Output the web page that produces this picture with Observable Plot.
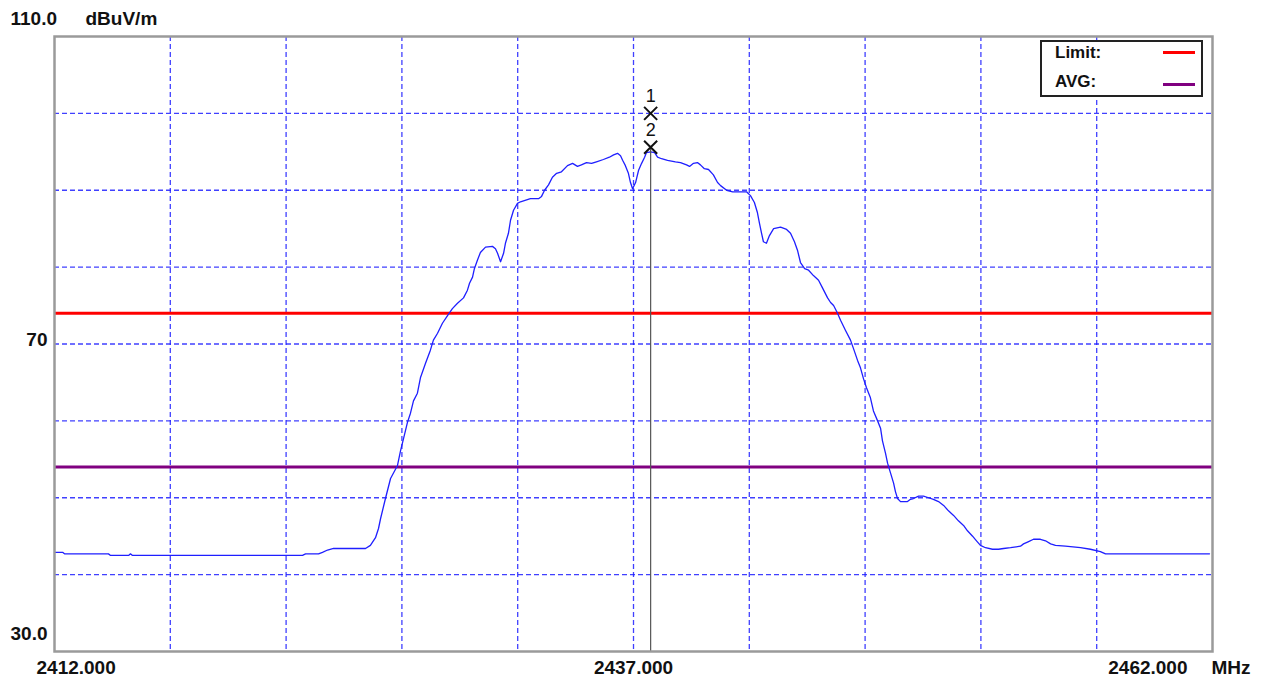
<!DOCTYPE html>
<html><head><meta charset="utf-8">
<script src="https://cdn.jsdelivr.net/npm/d3@7"></script>
<script src="https://cdn.jsdelivr.net/npm/@observablehq/plot@0.6"></script>
<style>
body{margin:0;background:#fff;}
#wrap{position:relative;width:1262px;height:682px;}
#legend{position:absolute;left:1040px;top:40px;width:159px;height:53px;border:2px solid #222;background:#fff;font-family:"Liberation Sans",Arial,sans-serif;font-weight:bold;font-size:17px;color:#111;}
.row{position:absolute;left:13px;}
.sw{position:absolute;left:121px;width:32px;height:3px;}
</style>
</head><body><div id="wrap"><div id="chart"></div><div id="legend"></div></div>
<script>
// Trace (MHz, dBuV/m)
const freq = [2412.00,2412.35,2412.43,2414.33,2414.42,2415.20,2415.28,2415.37,2422.71,2422.84,2423.40,2423.57,2423.79,2424.05,2425.43,2425.64,2425.86,2425.99,2426.08,2426.29,2426.51,2426.81,2426.94,2427.07,2427.24,2427.37,2427.50,2427.67,2427.80,2428.02,2428.23,2428.36,2428.54,2428.75,2428.97,2429.18,2429.40,2429.66,2429.83,2429.92,2430.05,2430.13,2430.26,2430.39,2430.61,2430.91,2431.04,2431.13,2431.26,2431.39,2431.47,2431.60,2431.69,2431.82,2431.99,2432.12,2432.55,2432.90,2433.03,2433.16,2433.33,2433.50,2433.68,2433.89,2434.15,2434.37,2434.58,2434.75,2434.97,2435.19,2435.40,2435.70,2435.96,2436.14,2436.31,2436.44,2436.53,2436.65,2436.78,2436.87,2436.96,2437.09,2437.22,2437.35,2437.48,2437.56,2437.74,2437.91,2438.04,2438.21,2438.47,2438.81,2439.03,2439.29,2439.42,2439.59,2439.76,2439.89,2440.06,2440.24,2440.45,2440.63,2440.76,2441.02,2441.28,2441.88,2442.05,2442.22,2442.35,2442.44,2442.53,2442.61,2442.74,2442.87,2443.05,2443.35,2443.61,2443.78,2443.95,2444.08,2444.21,2444.39,2444.56,2444.77,2444.99,2445.16,2445.38,2445.51,2445.64,2445.81,2445.94,2446.15,2446.37,2446.50,2446.67,2446.80,2446.93,2447.06,2447.23,2447.36,2447.54,2447.67,2447.75,2447.88,2447.97,2448.10,2448.23,2448.31,2448.40,2448.53,2448.83,2448.96,2449.09,2449.31,2449.52,2449.74,2449.95,2450.17,2450.39,2450.60,2450.82,2451.03,2451.25,2451.42,2451.64,2451.81,2451.98,2452.20,2452.50,2452.76,2452.98,2453.28,2453.71,2453.84,2454.06,2454.27,2454.57,2454.79,2455.01,2455.22,2455.65,2456.30,2456.73,2457.16,2457.38,2461.87];
const level = [42.9,42.9,42.7,42.7,42.5,42.5,42.7,42.5,42.5,42.7,42.7,42.9,43.2,43.4,43.4,43.8,44.8,46.0,47.3,49.9,52.5,54.2,56.1,57.7,59.8,61.0,62.6,63.6,65.6,67.5,69.2,70.5,71.4,72.7,73.7,74.6,75.3,76.0,77.0,77.9,78.7,79.8,80.9,81.9,82.6,82.7,82.4,81.8,80.7,81.8,83.1,84.4,86.1,87.4,88.3,88.5,88.9,88.9,89.2,90.0,90.7,91.7,92.2,92.4,93.2,93.5,93.1,93.3,93.6,93.5,93.7,94.0,94.3,94.6,94.8,94.5,93.9,93.2,92.2,91.0,90.2,91.0,92.6,93.5,94.3,94.9,95.0,94.9,94.3,94.1,93.9,93.7,93.6,93.3,93.1,93.5,93.6,93.3,92.8,92.7,92.0,91.0,90.6,90.0,89.8,89.8,89.3,88.4,87.1,85.7,84.4,83.3,83.1,84.1,85.0,85.2,84.9,84.4,83.3,82.2,80.6,79.8,79.6,78.9,78.3,77.3,76.0,75.4,75.0,74.0,73.1,71.8,70.5,69.4,67.9,66.9,65.5,64.3,63.0,61.3,60.0,59.0,57.4,55.8,54.5,53.2,51.9,50.8,49.9,49.5,49.5,49.8,49.9,50.2,50.2,50.0,49.8,49.5,49.0,48.3,47.7,47.0,46.4,45.7,45.0,44.4,43.8,43.5,43.3,43.3,43.4,43.5,43.7,44.0,44.3,44.6,44.6,44.4,44.0,43.8,43.7,43.5,43.3,43.0,42.7,42.7];

const limitLevel = 74;
const avgLevel = 54;
const legendNames = ["Limit:", "AVG:"];
const legendColors = ["#ff0000", "#800080"];

const markerFreq = 2437.74;
const markerLevels = [100.0, 95.6];
const markerNames = ["1", "2"];

const xGridValues = [2417, 2422, 2427, 2432, 2437, 2442, 2447, 2452, 2457];
const yGridValues = [40, 50, 60, 70, 80, 90, 100];
const xDomain = [2412, 2462];
const yDomain = [30, 110];
const xTickLabels = ["2412.000", "2437.000", "2462.000"];
const xUnit = "MHz";
const yTickLabels = ["110.0", "70", "30.0"];
const yUnit = "dBuV/m";

const trace = freq.map((f, i) => ({f, v: level[i]}));
const markers = markerLevels.map((v, i) => ({f: markerFreq, v, name: markerNames[i]}));

const font = {fontFamily: "Liberation Sans, Arial, sans-serif", fontWeight: "bold", fontSize: 19, fill: "#111"};
const gridStyle = {stroke: "#1f1fff", strokeOpacity: 0.85, strokeWidth: 1.3, strokeDasharray: "5,3"};

const chart = Plot.plot({
  width: 1262, height: 682,
  marginLeft: 54, marginRight: 50, marginTop: 36, marginBottom: 31,
  x: {domain: xDomain, axis: null},
  y: {domain: yDomain, axis: null},
  style: {background: "#fff", overflow: "visible"},
  marks: [
    Plot.ruleX(xGridValues, gridStyle),
    Plot.ruleY(yGridValues, gridStyle),
    Plot.ruleY([limitLevel], {stroke: legendColors[0], strokeWidth: 3}),
    Plot.ruleY([avgLevel], {stroke: legendColors[1], strokeWidth: 3}),
    Plot.line(trace, {x: "f", y: "v", stroke: "#1f1fff", strokeWidth: 1.3}),
    Plot.ruleX([{f: markerFreq, y1: yDomain[0], y2: markerLevels[1]}], {x: "f", y1: "y1", y2: "y2", stroke: "#555", strokeWidth: 1.2}),
    Plot.dot(markers, {x: "f", y: "v", symbol: "times", r: 6, stroke: "#111", strokeWidth: 2}),
    Plot.text(markers, {x: "f", y: "v", text: "name", dy: -17, fontFamily: "Liberation Sans, Arial, sans-serif", fontSize: 18, fill: "#111"}),
    Plot.frame({stroke: "#9a9a9a", strokeWidth: 2.5}),
    // y labels
    Plot.text([yTickLabels[0]], {x: xDomain[0], y: yDomain[1], text: d => d, textAnchor: "start", dx: -44, dy: -18, ...font}),
    Plot.text([yUnit], {x: xDomain[0], y: yDomain[1], text: d => d, textAnchor: "start", dx: 31, dy: -18, ...font}),
    Plot.text([yTickLabels[1]], {x: xDomain[0], y: 70, text: d => d, textAnchor: "end", dx: -7, dy: -4, ...font}),
    Plot.text([yTickLabels[2]], {x: xDomain[0], y: yDomain[0], text: d => d, textAnchor: "end", dx: -7, dy: -18, ...font}),
    // x labels
    Plot.text([xTickLabels[0]], {x: xDomain[0], y: yDomain[0], text: d => d, textAnchor: "start", dx: -18, dy: 16, ...font}),
    Plot.text([xTickLabels[1]], {x: 2437, y: yDomain[0], text: d => d, textAnchor: "middle", dy: 16, ...font}),
    Plot.text([xTickLabels[2]], {x: xDomain[1], y: yDomain[0], text: d => d, textAnchor: "end", dx: -25, dy: 16, ...font}),
    Plot.text([xUnit], {x: xDomain[1], y: yDomain[0], text: d => d, textAnchor: "start", dx: -1, dy: 16, ...font})
  ]
});
document.getElementById("chart").appendChild(chart);

const lg = document.getElementById("legend");
legendNames.forEach((n, i) => {
  const t = document.createElement("div");
  t.className = "row"; t.textContent = n;
  t.style.top = (i === 0 ? 1 : 30) + "px";
  lg.appendChild(t);
  const s = document.createElement("div");
  s.className = "sw"; s.style.background = legendColors[i];
  s.style.top = (i === 0 ? 9 : 41) + "px";
  lg.appendChild(s);
});
</script>
</body></html>
